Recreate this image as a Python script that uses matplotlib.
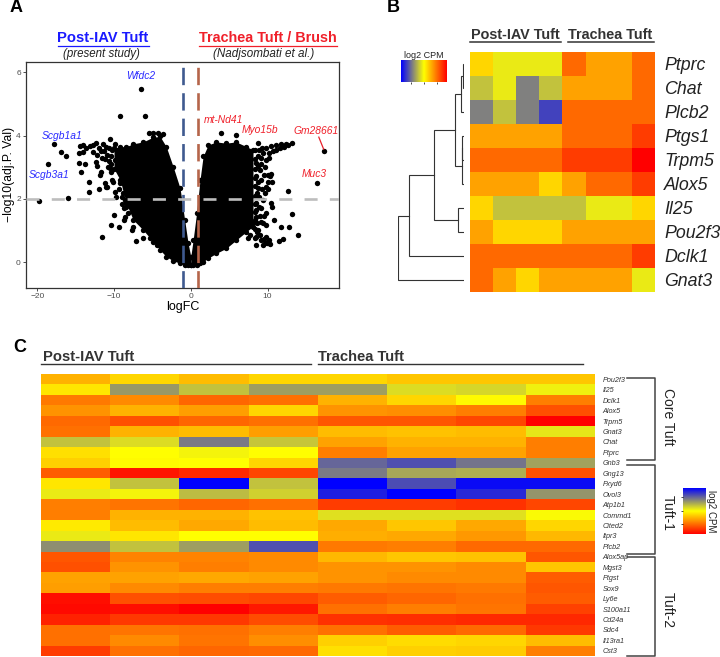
import matplotlib
matplotlib.use('Agg')
import matplotlib.pyplot as plt
import numpy as np
from matplotlib.colors import LinearSegmentedColormap

plt.rcParams['font.family'] = ['Liberation Sans', 'DejaVu Sans']
plt.rcParams['lines.scale_dashes'] = False

W, H = 720, 657

# panel A: dense part of the volcano, read as upper / lower edge per logFC
left_fc = [-10, -9.2, -8.4, -7.5, -6.2, -4.9, -4, -3.2, -2.3, -1.4, -0.8, -0.35, 0]
left_top = [3.6, 3.65, 3.65, 3.74, 3.8, 3.95, 3.97, 3.65, 3.02, 2.34, 1.34, 0.6, 0.18]
left_low = [2.95, 2.6, 1.86, 1.34, 1.02, 0.65, 0.39, 0.18, 0.05, -0.03, -0.08, -0.08, -0.08]
right_fc = [0, 0.3, 0.75, 1.2, 1.6, 2.25, 3.3, 4.6, 5.9, 7.25, 8.1]
right_top = [0.18, 0.7, 1.55, 2.6, 3.34, 3.7, 3.8, 3.76, 3.8, 3.65, 3.55]
right_low = [-0.08, -0.08, -0.08, -0.03, 0.02, 0.13, 0.28, 0.44, 0.7, 0.97, 1.13]

# panel A: single points outside the dense part
pts_x = [-14.45, -14.0, -13.15, -12.3, -11.4, -10.55, -9.9, -14.55, -14.0, -12.7, -14.55, -13.8, -14.3,
         -12.3, -12.2, -11.85, -11.7, -10.55, -9.9, -10.3, -10.1, -11.2, -11.0, -13.25, -13.25, -12.0,
         -10.85, -9.9, -9.7, -8.8, -8.6, -8.7, -8.15, -8.6, -10.0, -10.35, -9.4, -8.7, -7.5, -7.7, -7.2,
         -6.2, -11.6, -5.45, -4.9, -4.25, -3.6, -5.25, -4.45, -6.45, -9.2, -5.95, -17.75, -16.9, -16.3,
         -18.55, -19.8, -16,
         -11.0, -10.6, -10.2, -11.3, -10.9, -10.4, -11.2, -10.7, -10.35, -10.8, -10.4, -12.8, -12.0, -11.7,
         -12.2, -11.6, -13.6, -9.2, -9.3, -9.0, -8.95, -8.4,
         3.95, 5.9, 8.75, 13.15, 17.4, 16.5, 12.65, 13.2, 13.9, 12.8, 11.8, 11.95, 11.5, 10.85, 10.6, 10.4,
         10.6, 10.4, 10.3, 9.85, 10.5, 11.15, 11.8, 12.45, 9.4, 9.2, 8.75, 9.85, 8.55, 9, 9.65, 8.55, 9.2,
         9.85, 8.75, 8.9, 9.4, 8.55, 9.2, 9.75, 8.55, 9.2, 9.85, 8.75, 8.35, 9.2, 8.55, 9.4, 10.3, 9.85,
         7.45, 7.7, 8.1,
         8.4, 8.9, 9.3, 8.3, 8.4, 8.8, 9.1, 8.3, 8.4, 8.8, 8.3, 8.3, 8.6, 8.3, 8.5, 8.9, 8.3, 8.6, 8.95, 8.3,
         8.6, 8.45, 8.95, 9.5, 9.95, 9.6, 10.15, 9.35, 9.55, 9.6, 10.0, 10.05, 9.3, 9.5, 10.0, 10.2, 10.7,
         11.1, 11.6, 10.2, 12.2, 12.7]
pts_y = [3.68, 3.71, 3.67, 3.76, 3.73, 3.89, 3.74, 3.46, 3.49, 3.47, 3.13, 3.11, 2.85,
         3.18, 3.05, 2.76, 2.86, 2.97, 3.23, 2.6, 2.55, 2.49, 2.39, 2.52, 2.23, 2.31,
         2.37, 2.21, 2.07, 2.18, 1.97, 1.71, 1.55, 1.44, 1.49, 1.19, 1.11, 1.34, 1.13, 1.02, 0.68,
         0.76, 0.81, 4.07, 4.07, 4.07, 4.04, 0.76, 0.55, 5.48, 4.63, 4.63, 3.73, 3.48, 3.36,
         3.09, 1.93, 2.03,
         3.65, 3.6, 3.55, 3.5, 3.4, 3.35, 3.25, 3.2, 3.1, 3.0, 2.85, 3.7, 3.6, 3.5,
         3.4, 3.3, 3.6, 2.5, 2.3, 2.05, 1.85, 1.75,
         4.08, 4.02, 3.76, 3.78, 3.5, 2.49, 2.26, 1.53, 0.87, 1.12, 1.12, 0.75, 0.67, 1.32, 1.74, 1.86,
         2.53, 2.79, 2.71, 3.6, 3.67, 3.71, 3.73, 3.73, 3.44, 3.28, 3.34, 3.23, 3.13, 2.92, 3.02, 2.71, 2.6,
         2.39, 2.34, 2.07, 1.97, 1.86, 1.71, 1.55, 1.44, 1.28, 1.18, 1.02, 0.76, 0.7, 0.55, 0.55, 0.57, 0.81,
         0.76, 0.86, 1.23,
         3.55, 3.55, 3.6, 3.25, 2.95, 3.05, 3.1, 2.65, 2.4, 2.55, 2.1, 1.85, 2.2, 1.6, 1.65, 1.75, 1.35, 1.25,
         1.45, 1.05, 0.95, 0.8, 0.85, 0.75, 0.62, 0.62, 0.7, 1.25, 1.45, 2.2, 2.3, 2.55, 2.3, 2.75, 2.75, 3.45,
         3.5, 3.55, 3.6, 3.3, 3.65, 3.7]

blue_genes = ['Wfdc2', 'Scgb1a1', 'Scgb3a1']
blue_x = [-6.55, -16.8, -18.4]
blue_y = [5.89, 4.0, 2.76]
red_genes = ['mt-Nd41', 'Myo15b', 'Gm28661', 'Muc3']
red_x = [4.3, 9.0, 16.3, 16.1]
red_y = [4.49, 4.19, 4.15, 2.79]

# panel B
b_genes = ['Ptprc', 'Chat', 'Plcb2', 'Ptgs1', 'Trpm5', 'Alox5', 'Il25', 'Pou2f3', 'Dclk1', 'Gnat3']
b_vals = [[.58, .46, .46, .46, .79, .68, .68, .79],
          [.38, .46, .25, .38, .68, .68, .68, .79],
          [.25, .38, .25, .13, .79, .79, .79, .79],
          [.68, .68, .68, .68, .79, .79, .79, .88],
          [.79, .79, .79, .79, .88, .88, .88, 1.0],
          [.68, .68, .68, .58, .68, .79, .79, .88],
          [.58, .38, .38, .38, .38, .46, .46, .58],
          [.68, .58, .58, .58, .68, .68, .68, .68],
          [.79, .79, .79, .79, .79, .79, .79, .88],
          [.79, .68, .58, .68, .68, .68, .68, .46]]
# dendrogram merges: two children (leaf index or earlier merge as 'm<i>') and height
b_merges = [(0, 1, 5), ('m0', 2, 11), (3, 4, 6), ('m2', 5, 8), ('m1', 'm3', 27),
            (6, 7, 20), ('m4', 'm5', 90), ('m6', 8, 167), ('m7', 9, 200)]

# panel C
c_genes = ['Pou2f3', 'Il25', 'Dclk1', 'Alox5', 'Trpm5', 'Gnat3', 'Chat', 'Ptprc', 'Gnb3', 'Gng13', 'Fxyd6',
           'Ovol3', 'Atp1b1', 'Commd1', 'Cited2', 'Itpr3', 'Plcb2', 'Alox5ap', 'Mgst3', 'Ptgst', 'Sox9', 'Ly6e',
           'S100a11', 'Cd24a', 'Sdc4', 'Il13ra1', 'Cst3']
c_vals = [[.65, .58, .63, .58, .58, .61, .61, .61],
          [.55, .30, .38, .31, .31, .43, .42, .47],
          [.76, .73, .80, .78, .65, .58, .51, .75],
          [.71, .65, .69, .58, .71, .72, .75, .84],
          [.79, .84, .80, .78, .83, .83, .86, 1.0],
          [.78, .65, .63, .69, .63, .62, .63, .45],
          [.38, .43, .24, .39, .68, .65, .65, .75],
          [.56, .50, .48, .50, .75, .68, .68, .75],
          [.59, .51, .50, .58, .20, .16, .23, .32],
          [.82, .96, .92, .86, .24, .33, .34, .84],
          [.55, .38, .00, .38, .00, .15, .02, .02],
          [.46, .48, .37, .41, .06, .00, .08, .29],
          [.75, .77, .80, .78, .88, .88, .90, .86],
          [.75, .65, .65, .62, .44, .44, .44, .49],
          [.54, .63, .67, .63, .67, .61, .67, .58],
          [.46, .55, .50, .50, .66, .67, .70, .64],
          [.28, .38, .31, .16, .76, .75, .79, .79],
          [.83, .74, .74, .73, .64, .61, .62, .83],
          [.84, .71, .75, .73, .71, .71, .73, .61],
          [.68, .68, .67, .68, .71, .73, .73, .82],
          [.69, .73, .75, .75, .76, .77, .76, .83],
          [.97, .84, .85, .86, .82, .80, .78, .82],
          [.98, .97, 1.0, .95, .78, .75, .77, .87],
          [.93, .89, .89, .85, .90, .91, .92, .92],
          [.78, .77, .78, .75, .78, .82, .79, .89],
          [.78, .73, .77, .72, .59, .57, .58, .63],
          [.88, .78, .80, .79, .56, .59, .60, .75]]
c_groups = ['Core Tuft', 'Tuft-1', 'Tuft-2']

cmap = LinearSegmentedColormap.from_list('cpm', [(0, '#0000ff'), (0.25, '#808080'), (0.5, '#ffff00'), (1, '#ff0000')])
ramp = np.linspace(0, 1, 256)


def box(x0, y0, x1, y1):
    # pixel box, y from the top, to a figure rectangle
    return [x0 / W, 1 - y1 / H, (x1 - x0) / W, (y1 - y0) / H]


fig = plt.figure(figsize=(7.2, 6.57), dpi=100, facecolor='white')


def ftext(x, y, s, **kw):
    kw.setdefault('ha', 'center')
    kw.setdefault('va', 'center')
    fig.text(x / W, 1 - y / H, s, **kw)


def fline(xs, ys, **kw):
    fig.add_artist(plt.Line2D([x / W for x in xs], [1 - y / H for y in ys], **kw))


# ---- A ----
ax = fig.add_axes(box(25.7, 61.7, 339, 288))
ax.fill_between(left_fc, left_low, left_top, color='black', lw=0, zorder=2)
ax.fill_between(right_fc, right_low, right_top, color='black', lw=0, zorder=2)
for xs, ys in [(left_fc, left_top), (left_fc, left_low), (right_fc, right_top), (right_fc, right_low), (pts_x, pts_y)]:
    ax.scatter(xs, ys, s=15, color='black', lw=0, zorder=3)
ax.axvline(-1, color='#3f5a8f', lw=1.9, dashes=(12.5, 5.8), zorder=4)
ax.axvline(1, color='#b5654a', lw=1.9, dashes=(12.5, 5.8), zorder=4)
ax.axhline(2, color='#bdbdbd', lw=1.9, dashes=(9.4, 8.8), zorder=5)
ax.plot([16.67, 17.3], [3.95, 3.57], color='#e8202a', lw=0.9, zorder=4)
for g, x, y in zip(blue_genes, blue_x, blue_y):
    ax.text(x, y, g, color='#2a2aff', style='italic', fontsize=7.4, ha='center', va='center')
for g, x, y in zip(red_genes, red_x, red_y):
    ax.text(x, y, g, color='#f0202a', style='italic', fontsize=7.4, ha='center', va='center')
ax.set_xlim(-21.5, 19.3)
ax.set_ylim(-0.81, 6.33)
ax.set_xticks([-20, -10, 0, 10])
ax.set_yticks([0, 2, 4, 6])
ax.tick_params(labelsize=6, colors='#4d4d4d', length=2, width=0.7, pad=1.5)
ax.set_xlabel('logFC', fontsize=9, labelpad=1)
ax.set_ylabel('\u2212log10(adj.P. Val)', fontsize=8.7, labelpad=0.5)
for s in ax.spines.values():
    s.set_color('#333333')
    s.set_linewidth(0.9)

ftext(103, 38.5, 'Post-IAV Tuft', color='#1a1aff', fontweight='bold', fontsize=10.6)
fline([58, 148.5], [45.5, 45.5], color='#1a1aff', lw=0.9)
ftext(268, 38.5, 'Trachea Tuft / Brush', color='#f0202a', fontweight='bold', fontsize=10.4)
fline([199, 337], [45.5, 45.5], color='#f0202a', lw=0.9)
ftext(101.7, 53.5, '(present study)', style='italic', fontsize=8.3, color='#222222')
ftext(264, 53.5, '(Nadjsombati et al.)', style='italic', fontsize=8.4, color='#222222')

# ---- B ----
ax = fig.add_axes(box(470, 52, 655, 292))
ax.imshow(b_vals, cmap=cmap, vmin=0, vmax=1, aspect='auto', interpolation='nearest')
ax.set_xticks([])
ax.yaxis.tick_right()
ax.set_yticks(range(len(b_genes)), b_genes, style='italic', fontsize=12.8, color='#222222')
ax.tick_params(length=0, pad=6.5)
for s in ax.spines.values():
    s.set_visible(False)

dn = fig.add_axes(box(397.7, 52, 464.3, 292))
nodes = {}
for i, (a, b, h) in enumerate(b_merges):
    ya, ha = nodes[a] if a in nodes else (a, 0)
    yb, hb = nodes[b] if b in nodes else (b, 0)
    dn.plot([ha, h, h, hb], [ya, ya, yb, yb], color='#333333', lw=0.8, solid_joinstyle='miter')
    nodes['m%d' % i] = ((ya + yb) / 2, h)
dn.set_xlim(200, 0)
dn.set_ylim(len(b_genes) - 0.5, -0.5)
dn.axis('off')

ftext(515.5, 35, 'Post-IAV Tuft', fontweight='bold', fontsize=10.4, color='#333333')
fline([470, 561], [41.7, 41.7], color='#333333', lw=1.1)
ftext(610.5, 35, 'Trachea Tuft', fontweight='bold', fontsize=10.4, color='#333333')
fline([567.5, 654], [41.7, 41.7], color='#333333', lw=1.1)

cb = fig.add_axes(box(401, 60, 446.7, 81.7))
cb.imshow([ramp], cmap=cmap, aspect='auto', extent=[0, 1, 0, 1])
cb.set_yticks([])
cb.set_xticks([0.21, 0.5, 0.79], ['', '', ''])
cb.tick_params(length=1.5, width=0.5, pad=0)
for s in cb.spines.values():
    s.set_visible(False)
ftext(423.5, 55, 'log2 CPM', fontsize=6.5, color='#222222')

# ---- C ----
ax = fig.add_axes(box(41, 374, 595, 656))
ax.imshow(c_vals, cmap=cmap, vmin=0, vmax=1, aspect='auto', interpolation='nearest')
ax.set_xticks([])
ax.yaxis.tick_right()
ax.set_yticks(range(len(c_genes)), c_genes, style='italic', fontsize=5.2, color='#333333')
ax.tick_params(length=0, pad=5.5)
for s in ax.spines.values():
    s.set_visible(False)

ftext(43, 357, 'Post-IAV Tuft', fontweight='bold', fontsize=10.6, color='#333333', ha='left')
fline([41, 311], [364, 364], color='#333333', lw=1.0)
ftext(318, 357, 'Trachea Tuft', fontweight='bold', fontsize=10.6, color='#333333', ha='left')
fline([318, 583], [364, 364], color='#333333', lw=1.0)

for name, y0, y1, ym in zip(c_groups, [378, 465, 557], [460, 554, 656], [417, 513, 610]):
    fline([627, 655, 655, 627], [y0, y0, y1, y1], color='#444444', lw=1.1)
    ftext(668, ym, name, rotation=270, fontsize=10, color='#222222')

cb = fig.add_axes(box(683, 488, 705.7, 533.7))
cb.imshow(ramp[:, None], cmap=cmap, aspect='auto', extent=[0, 1, 1, 0])
cb.set_xticks([])
cb.yaxis.tick_left()
cb.set_yticks([0.2, 0.5, 0.78], ['', '', ''])
cb.tick_params(length=1.5, width=0.5, pad=0)
for s in cb.spines.values():
    s.set_visible(False)
ftext(711, 511, 'log2 CPM', rotation=270, fontsize=7, color='#222222')

ftext(16, 8, 'A', fontweight='bold', fontsize=13, color='black')
ftext(393, 7, 'B', fontweight='bold', fontsize=13, color='black')
ftext(20, 347, 'C', fontweight='bold', fontsize=13, color='black')

fig.savefig('out.png', dpi=100)
